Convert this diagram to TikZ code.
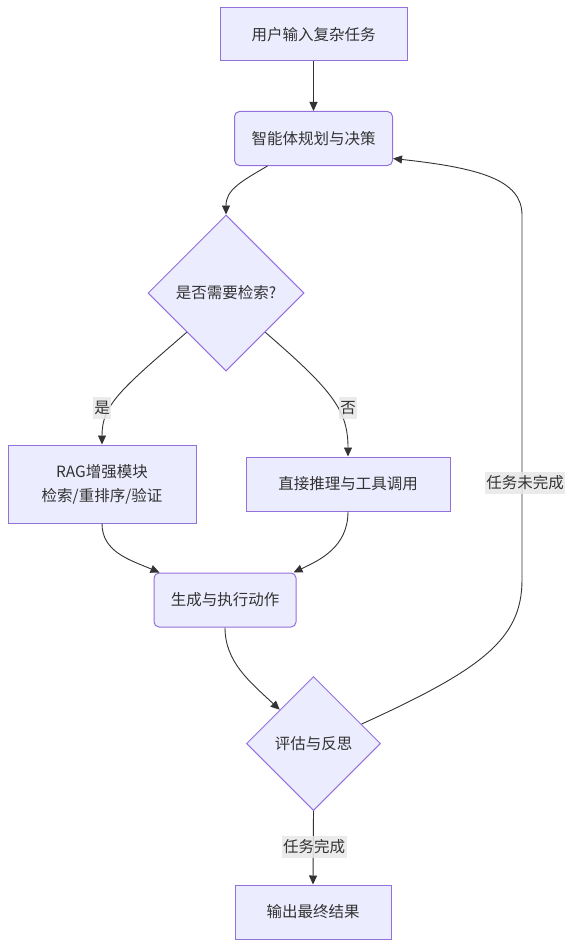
\documentclass[tikz,border=0pt]{standalone}
\usepackage{fontspec}
\newfontfamily\cjk{Noto Sans CJK SC}
\usetikzlibrary{shapes.geometric,arrows.meta}
\definecolor{nfill}{HTML}{ECECFF}
\definecolor{nstroke}{HTML}{9370DB}
\definecolor{ink}{HTML}{333333}
\definecolor{lblbg}{HTML}{E8E8E8}
\tikzset{
  base/.style={draw=nstroke, fill=nfill, line width=1pt, text=ink, font=\cjk\fontsize{15.5}{24}\selectfont, inner sep=0pt, align=center},
  boxn/.style={base, rectangle},
  rboxn/.style={base, rectangle, rounded corners=5pt},
  decn/.style={base, diamond, aspect=1},
  edge/.style={draw=ink, line width=0.9pt, -{Triangle[length=9pt,width=8pt]}},
  lbl/.style={fill=lblbg, fill opacity=0.85, text opacity=1, text=ink, font=\cjk\fontsize{15.5}{18}\selectfont, inner sep=1.5pt, minimum height=22pt}
}
\begin{document}
\begin{tikzpicture}[x=1pt,y=-1pt]
\useasboundingbox (0,0) rectangle (573,947);
\node[boxn, minimum width=187pt, minimum height=53pt] (A) at (313.5,34.5) {用户输入复杂任务};
\node[rboxn, minimum width=158pt, minimum height=54pt] (B) at (313.5,138.5) {智能体规划与决策};
\node[decn, minimum width=156pt, minimum height=156pt] (C) at (226,293) {是否需要检索?};
\node[boxn, minimum width=188pt, minimum height=78pt] (R) at (102,484) {RAG增强模块\\检索/重排序/验证};
\node[boxn, minimum width=204pt, minimum height=54pt] (D) at (348,484) {直接推理与工具调用};
\node[rboxn, minimum width=142pt, minimum height=54pt] (G) at (225,600) {生成与执行动作};
\node[decn, minimum width=134pt, minimum height=134pt] (E) at (313.5,743.5) {评估与反思};
\node[boxn, minimum width=156pt, minimum height=54pt] (O) at (313,912) {输出最终结果};

\draw[edge] (A.south) -- (B.north);
\draw[edge] ([xshift=-46pt]B.south) .. controls (240,182) and (226,190) .. (C.north);
\draw[edge] (C.-135) .. controls (120,390) and (102,405) .. (R.north);
\draw[edge] (C.-45) .. controls (332,390) and (348,410) .. (D.north);
\draw[edge] (R.south) .. controls (102,552) and (130,560) .. ([xshift=6pt]G.north west);
\draw[edge] (D.south) .. controls (348,547) and (320,560) .. ([xshift=-3pt]G.north east);
\draw[edge] (G.south) .. controls (225,662) and (250,682) .. (E.135);
\draw[edge] (E.22) .. controls (480,670) and (522,640) .. (522,580) -- (522,215) .. controls (522,180) and (480,168) .. ([yshift=-20pt]B.east);
\draw[edge] (E.south) -- (O.north);

\node[lbl] (l1) at (102,408) {是};
\node[lbl] (l2) at (348,408) {否};
\node[lbl] (l3) at (525,483) {任务未完成};
\node[lbl] (l4) at (314,847) {任务完成};
\end{tikzpicture}
\end{document}
